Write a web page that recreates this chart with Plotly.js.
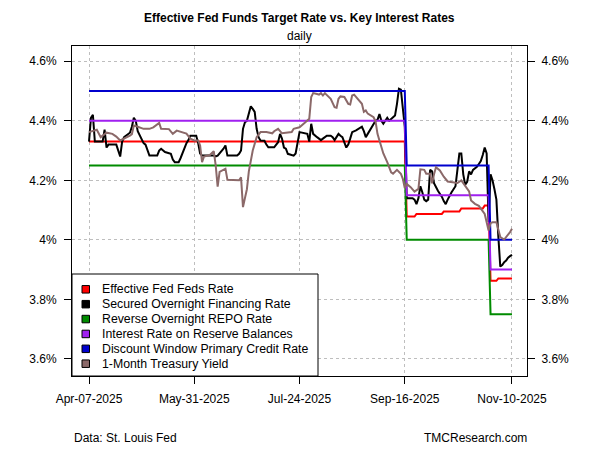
<!DOCTYPE html>
<html>
<head>
<meta charset="utf-8">
<script src="https://cdn.plot.ly/plotly-3.0.1.min.js"></script>
<style>html,body{margin:0;padding:0;background:#fff;}#chart{width:600px;height:450px;}</style>
</head>
<body>
<div id="chart"></div>
<script>
// ---- data ----
var seriesNames = ["Effective Fed Feds Rate", "Secured Overnight Financing Rate", "Reverse Overnight REPO Rate",
  "Interest Rate on Reserve Balances", "Discount Window Primary Credit Rate", "1-Month Treasury Yield"];
var seriesColors = ["#FF0000", "#000000", "#008B00", "#A020F0", "#0000CD", "#8B6969"];

var effrDates = ["2025-04-07","2025-09-16","2025-09-17","2025-09-21","2025-09-22","2025-10-05","2025-10-06","2025-10-14",
  "2025-10-15","2025-10-26","2025-10-27","2025-10-29","2025-10-30","2025-11-02","2025-11-03","2025-11-10"];
var effrVals = [4.33,4.33,4.078,4.078,4.087,4.087,4.095,4.095,4.105,4.105,4.115,4.115,3.862,3.862,3.87,3.87];

var stepDates = ["2025-04-07","2025-09-16","2025-09-17","2025-10-29","2025-10-30","2025-11-10"];
var rrpVals  = [4.25,4.25,4.00,4.00,3.75,3.75];
var iorbVals = [4.40,4.40,4.15,4.15,3.90,3.90];
var dwVals   = [4.50,4.50,4.25,4.25,4.00,4.00];

var sofrDates = ["2025-04-07","2025-04-08","2025-04-09","2025-04-10","2025-04-14","2025-04-15","2025-04-16","2025-04-17",
  "2025-04-21","2025-04-23","2025-04-24","2025-04-25","2025-04-28","2025-04-29","2025-04-30","2025-05-01","2025-05-02",
  "2025-05-05","2025-05-06","2025-05-07","2025-05-08","2025-05-12","2025-05-13","2025-05-14","2025-05-16","2025-05-19",
  "2025-05-20","2025-05-21","2025-05-23","2025-05-24","2025-05-26","2025-05-27","2025-05-28","2025-05-29","2025-06-01",
  "2025-06-02","2025-06-03","2025-06-04","2025-06-10","2025-06-11","2025-06-12","2025-06-13","2025-06-14","2025-06-15",
  "2025-06-16","2025-06-17","2025-06-18","2025-06-22","2025-06-23","2025-06-24","2025-06-25","2025-06-26","2025-06-27",
  "2025-06-28","2025-06-29","2025-06-30","2025-07-01","2025-07-02","2025-07-03","2025-07-04","2025-07-06","2025-07-07",
  "2025-07-08","2025-07-11","2025-07-13","2025-07-14","2025-07-15","2025-07-16","2025-07-17","2025-07-18","2025-07-21",
  "2025-07-22","2025-07-23","2025-07-24","2025-07-28","2025-07-29","2025-07-30","2025-07-31","2025-08-02","2025-08-04",
  "2025-08-05","2025-08-06","2025-08-07","2025-08-09","2025-08-10","2025-08-11","2025-08-12","2025-08-13","2025-08-14",
  "2025-08-15","2025-08-17","2025-08-18","2025-08-19","2025-08-20","2025-08-22","2025-08-24","2025-08-25","2025-08-26",
  "2025-08-27","2025-08-28","2025-08-31","2025-09-01","2025-09-02","2025-09-03","2025-09-04","2025-09-05","2025-09-06",
  "2025-09-07","2025-09-08","2025-09-10","2025-09-11","2025-09-12","2025-09-13","2025-09-14","2025-09-15","2025-09-16",
  "2025-09-17","2025-09-18","2025-09-19","2025-09-20","2025-09-21","2025-09-22","2025-09-23","2025-09-24","2025-09-25",
  "2025-09-26","2025-09-27","2025-09-28","2025-09-29","2025-09-30","2025-10-01","2025-10-02","2025-10-03","2025-10-04",
  "2025-10-05","2025-10-06","2025-10-07","2025-10-08","2025-10-09","2025-10-10","2025-10-11","2025-10-12","2025-10-13",
  "2025-10-14","2025-10-15","2025-10-16","2025-10-17","2025-10-18","2025-10-19","2025-10-20","2025-10-21","2025-10-22",
  "2025-10-23","2025-10-24","2025-10-25","2025-10-26","2025-10-27","2025-10-28","2025-10-29","2025-10-30","2025-10-31",
  "2025-11-01","2025-11-02","2025-11-03","2025-11-04","2025-11-05","2025-11-06","2025-11-07","2025-11-08","2025-11-09",
  "2025-11-10"];
var sofrVals = [4.33,4.41,4.42,4.33,4.33,4.37,4.31,4.32,
  4.32,4.28,4.33,4.345,4.36,4.38,4.41,4.40,4.365,
  4.325,4.32,4.30,4.283,4.283,4.30,4.306,4.295,4.289,
  4.27,4.261,4.261,4.275,4.31,4.325,4.335,4.35,4.35,
  4.325,4.29,4.283,4.283,4.28,4.283,4.29,4.30,4.306,
  4.317,4.283,4.283,4.283,4.289,4.30,4.373,4.395,4.40,
  4.43,4.449,4.44,4.43,4.373,4.345,4.334,4.333,4.32,
  4.311,4.311,4.328,4.356,4.34,4.31,4.306,4.289,4.283,
  4.29,4.334,4.362,4.356,4.33,4.39,4.356,4.345,4.335,
  4.34,4.345,4.35,4.35,4.345,4.335,4.345,4.356,4.35,
  4.345,4.31,4.32,4.34,4.362,4.368,4.378,4.38,4.365,
  4.345,4.356,4.39,4.40,4.403,4.423,4.40,4.39,4.40,
  4.41,4.40,4.412,4.418,4.457,4.508,4.505,4.45,4.38,
  4.14,4.14,4.14,4.14,4.135,4.12,4.14,4.18,4.16,
  4.135,4.13,4.135,4.235,4.23,4.19,4.175,4.165,4.155,
  4.145,4.13,4.12,4.135,4.15,4.16,4.17,4.18,4.235,
  4.29,4.29,4.22,4.185,4.195,4.23,4.22,4.235,4.24,
  4.245,4.255,4.265,4.285,4.31,4.29,4.06,4.22,4.20,
  4.17,4.135,4.01,3.91,3.915,3.925,3.93,3.94,3.945,
  3.95];

var billDates = ["2025-04-07","2025-04-11","2025-04-13","2025-04-16","2025-04-19","2025-04-21","2025-04-23","2025-04-25",
  "2025-04-26","2025-04-28","2025-04-29","2025-04-30","2025-05-02","2025-05-05","2025-05-08","2025-05-10","2025-05-13",
  "2025-05-14","2025-05-18","2025-05-20","2025-05-22","2025-05-24","2025-05-27","2025-05-29","2025-05-31","2025-06-02",
  "2025-06-03","2025-06-04","2025-06-05","2025-06-08","2025-06-10","2025-06-11","2025-06-12","2025-06-13","2025-06-16",
  "2025-06-17","2025-06-23","2025-06-24","2025-06-25","2025-06-26","2025-06-27","2025-06-28","2025-06-30","2025-07-02",
  "2025-07-04","2025-07-07","2025-07-10","2025-07-11","2025-07-13","2025-07-15","2025-07-17","2025-07-20","2025-07-21",
  "2025-07-24","2025-07-27","2025-07-29","2025-07-30","2025-07-31","2025-08-02","2025-08-03","2025-08-04","2025-08-05",
  "2025-08-06","2025-08-09","2025-08-11","2025-08-12","2025-08-13","2025-08-14","2025-08-16","2025-08-18","2025-08-19",
  "2025-08-20","2025-08-21","2025-08-23","2025-08-25","2025-08-26","2025-08-27","2025-08-28","2025-08-31","2025-09-01",
  "2025-09-02","2025-09-03","2025-09-05","2025-09-07","2025-09-09","2025-09-10","2025-09-12","2025-09-14","2025-09-15",
  "2025-09-16","2025-09-17","2025-09-19","2025-09-21","2025-09-23","2025-09-24","2025-09-26","2025-09-27","2025-09-29",
  "2025-09-30","2025-10-01","2025-10-02","2025-10-04","2025-10-06","2025-10-08","2025-10-13","2025-10-15","2025-10-16",
  "2025-10-18","2025-10-19","2025-10-20","2025-10-22","2025-10-24","2025-10-25","2025-10-27","2025-10-28","2025-10-29",
  "2025-10-30","2025-10-31","2025-11-02","2025-11-03","2025-11-04","2025-11-06","2025-11-07","2025-11-09","2025-11-10"];
var billVals = [4.362,4.37,4.345,4.36,4.356,4.347,4.334,4.34,
  4.345,4.35,4.355,4.384,4.38,4.373,4.373,4.378,4.393,
  4.373,4.372,4.356,4.367,4.362,4.357,4.34,4.334,4.334,
  4.317,4.261,4.28,4.285,4.298,4.25,4.179,4.228,4.239,
  4.202,4.20,4.21,4.11,4.14,4.17,4.23,4.30,4.345,
  4.362,4.362,4.358,4.365,4.373,4.358,4.36,4.362,4.373,
  4.378,4.395,4.407,4.48,4.493,4.49,4.488,4.493,4.485,
  4.493,4.474,4.446,4.444,4.474,4.482,4.48,4.457,4.455,
  4.485,4.488,4.474,4.457,4.43,4.435,4.424,4.412,4.398,
  4.356,4.334,4.29,4.261,4.227,4.222,4.235,4.222,4.205,
  4.174,4.188,4.177,4.162,4.171,4.237,4.235,4.222,4.222,
  4.19,4.22,4.244,4.233,4.212,4.196,4.191,4.20,4.19,
  4.174,4.163,4.132,4.121,4.114,4.104,4.087,4.059,4.031,
  4.056,4.059,4.059,4.031,4.009,4.001,4.009,4.026,4.037];

var xTickDates = ["2025-04-07","2025-05-31","2025-07-24","2025-09-16","2025-11-10"];
var xTickLabels = ["Apr-07-2025","May-31-2025","Jul-24-2025","Sep-16-2025","Nov-10-2025"];
var yTickVals = [3.6,3.8,4.0,4.2,4.4,4.6];
var yTickLabels = ["3.6%","3.8%","4%","4.2%","4.4%","4.6%"];

// ---- build ----
var FONT = "Liberation Sans, Arial, sans-serif";
var seriesX = [effrDates, sofrDates, stepDates, stepDates, stepDates, billDates];
var seriesY = [effrVals, sofrVals, rrpVals, iorbVals, dwVals, billVals];
var traces = [];
for (var i = 0; i < seriesNames.length; i++) {
  traces.push({x: seriesX[i], y: seriesY[i], type: "scatter", mode: "lines", name: seriesNames[i],
    line: {color: seriesColors[i], width: 2}, showlegend: false, hoverinfo: "skip"});
}
// hidden trace on y2 so the right axis is drawn
traces.push({x: [effrDates[0]], y: [effrVals[0]], yaxis: "y2", type: "scatter", mode: "markers",
  marker: {opacity: 0}, showlegend: false, hoverinfo: "skip"});

// plot area in pixels: x 72..527, y 46..376
function px2x(p) { return (p - 72) / 455; }
function px2y(p) { return (376 - p) / 330; }

var shapes = [{type: "rect", xref: "paper", yref: "paper", x0: 0, x1: px2x(318), y0: 0, y1: px2y(274),
  fillcolor: "#fff", line: {color: "#000", width: 1}, layer: "above"}];
var annotations = [
  {text: "<b>Effective Fed Funds Target Rate vs. Key Interest Rates</b>", xref: "paper", yref: "paper",
    x: 0.5, y: px2y(18), xanchor: "center", yanchor: "middle", showarrow: false, font: {family: FONT, size: 12, color: "#000"}},
  {text: "daily", xref: "paper", yref: "paper", x: 0.5, y: px2y(36), xanchor: "center", yanchor: "middle",
    showarrow: false, font: {family: FONT, size: 12, color: "#000"}},
  {text: "Data: St. Louis Fed", xref: "paper", yref: "paper", x: 0, y: px2y(438), xanchor: "left", yanchor: "middle",
    showarrow: false, font: {family: FONT, size: 12, color: "#000"}},
  {text: "TMCResearch.com", xref: "paper", yref: "paper", x: px2x(529), y: px2y(438), xanchor: "right", yanchor: "middle",
    showarrow: false, font: {family: FONT, size: 12, color: "#000"}}
];
// legend rows (drawn as boxes + text inside the legend frame)
for (var k = 0; k < seriesNames.length; k++) {
  var yc = 289.3 + 14.88 * k;
  shapes.push({type: "rect", xref: "paper", yref: "paper", x0: px2x(82), x1: px2x(89.5),
    y0: px2y(yc + 3.75), y1: px2y(yc - 3.75), fillcolor: seriesColors[k], line: {color: "#000", width: 1}, layer: "above"});
  annotations.push({text: seriesNames[k], xref: "paper", yref: "paper", x: px2x(99.5), y: px2y(yc),
    xanchor: "left", yanchor: "middle", showarrow: false, font: {family: FONT, size: 12.3, color: "#000"}});
}

var axisY = {range: [3.5422, 4.6514], tickmode: "array", tickvals: yTickVals, ticktext: yTickLabels,
  ticks: "outside", ticklen: 7, tickcolor: "#000", tickwidth: 1, showgrid: true, gridcolor: "#BEBEBE",
  griddash: "dot", gridwidth: 1, zeroline: false, showline: true, linecolor: "#000", linewidth: 1,
  tickfont: {family: FONT, size: 12, color: "#000"}, ticklabelstandoff: 5, fixedrange: true};

var layout = {
  width: 600, height: 450,
  margin: {l: 72, r: 73, t: 46, b: 74, pad: 0},
  paper_bgcolor: "#fff", plot_bgcolor: "#fff",
  font: {family: FONT, size: 12, color: "#000"},
  showlegend: false,
  xaxis: {type: "date", range: ["2025-03-29 06:43", "2025-11-17 16:48"], tickmode: "array",
    tickvals: xTickDates, ticktext: xTickLabels, ticks: "outside", ticklen: 7, tickcolor: "#000", tickwidth: 1,
    showgrid: true, gridcolor: "#BEBEBE", griddash: "dot", gridwidth: 1, zeroline: false,
    showline: true, mirror: true, linecolor: "#000", linewidth: 1,
    tickfont: {family: FONT, size: 12, color: "#000"}, ticklabelstandoff: 5, fixedrange: true},
  yaxis: Object.assign({}, axisY, {mirror: true}),
  yaxis2: Object.assign({}, axisY, {overlaying: "y", side: "right", showgrid: false, showline: false, ticklabelstandoff: 4}),
  shapes: shapes,
  annotations: annotations
};

Plotly.newPlot("chart", traces, layout, {staticPlot: true, displayModeBar: false});
</script>
</body>
</html>
